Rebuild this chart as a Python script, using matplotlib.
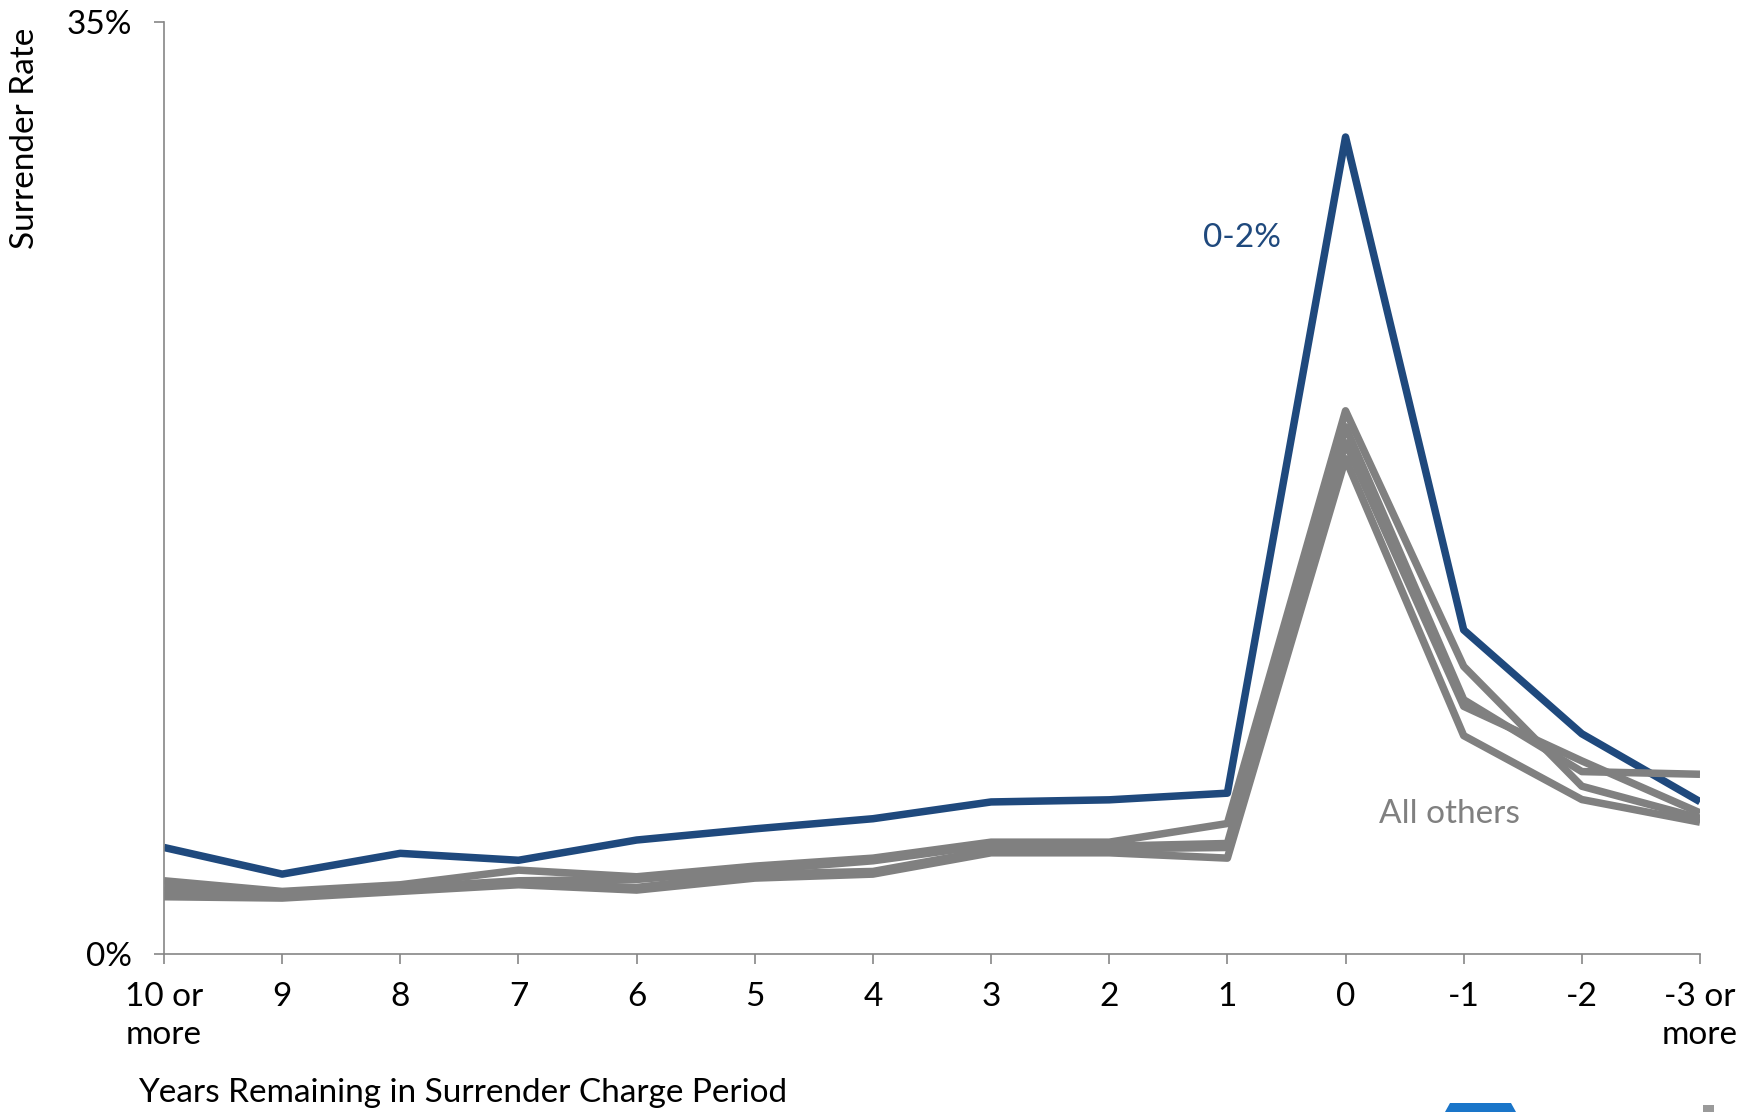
import matplotlib.pyplot as plt
import matplotlib.patches as mpatches
import numpy as np

plt.rcParams["font.family"] = ["Lato", "DejaVu Sans"]

# years remaining in the surrender charge period
categories = ["10 or\nmore", "9", "8", "7", "6", "5", "4", "3", "2", "1",
              "0", "-1", "-2", "-3 or\nmore"]

# surrender rate (%) for the 0-2% group
rate_0_2 = [4.0, 3.0, 3.78, 3.52, 4.28, 4.7, 5.08, 5.71, 5.79, 6.04,
            30.68, 12.17, 8.27, 5.72]

# surrender rate (%) for the remaining groups
others_a = [2.75, 2.35, 2.6, 3.15, 2.9, 3.3, 3.6, 4.2, 4.2, 4.9,
            20.4, 10.8, 6.3, 5.1]
others_b = [2.5, 2.25, 2.5, 2.75, 2.8, 3.15, 3.5, 4.1, 4.05, 4.15,
            19.8, 9.55, 6.85, 6.75]
others_c = [2.3, 2.15, 2.45, 2.65, 2.5, 3.0, 3.1, 3.9, 3.95, 4.0,
            19.2, 9.3, 7.25, 5.3]
others_d = [2.15, 2.1, 2.35, 2.6, 2.4, 2.85, 3.0, 3.8, 3.8, 3.6,
            18.6, 8.2, 5.8, 4.95]
others = [others_a, others_b, others_c, others_d]

BLUE = "#1F497D"
GRAY = "#808080"
AXIS = "#868686"
FS = 24

fig = plt.figure(figsize=(17.54, 11.12), dpi=100)
ax = fig.add_axes([164 / 1754, 158 / 1112, 1536 / 1754, 932 / 1112])

x = np.arange(len(categories))
ax.plot(x, rate_0_2, color=BLUE, lw=5.4,
        solid_capstyle="butt", solid_joinstyle="round")
for series in others:
    ax.plot(x, series, color=GRAY, lw=5.4,
            solid_capstyle="butt", solid_joinstyle="round")

ax.set_xlim(0, len(categories) - 1)
ax.set_ylim(0, 35)

ax.set_xticks(x)
ax.set_xticklabels(categories, fontsize=FS, linespacing=1.35)
ax.set_yticks([0, 35])
ax.set_yticklabels(["0%", "35%"], fontsize=FS)

ax.tick_params(axis="x", direction="out", length=7, width=1.2,
               color=AXIS, pad=13)
ax.tick_params(axis="y", direction="out", length=7, width=1.2,
               color=AXIS, pad=16)

for side in ("top", "right"):
    ax.spines[side].set_visible(False)
for side in ("left", "bottom"):
    ax.spines[side].set_color(AXIS)
    ax.spines[side].set_linewidth(1.2)

# series annotations
ax.text(9.12, 26.9, "0-2%", color=BLUE, fontsize=FS, ha="center", va="center")
ax.text(10.88, 5.26, "All others", color=GRAY, fontsize=FS,
        ha="center", va="center")

# axis titles
fig.text(138 / 1754, 1 - 1093 / 1112, "Years Remaining in Surrender Charge Period",
         fontsize=FS, ha="left", va="center")
fig.text(25 / 1754, 1 - 28 / 1112, "Surrender Rate", fontsize=FS,
         rotation=90, ha="center", va="top")

# corner logo fragment at the bottom edge
fig.patches.append(mpatches.Polygon(
    [(1445 / 1754, 0), (1450 / 1754, 9 / 1112), (1511 / 1754, 9 / 1112),
     (1516 / 1754, 0)], closed=True, transform=fig.transFigure,
    facecolor="#1A75C9", edgecolor="none"))
fig.patches.append(mpatches.Rectangle(
    (1703 / 1754, 0), 11 / 1754, 7 / 1112, transform=fig.transFigure,
    facecolor="#9A9A9A", edgecolor="none"))

fig.savefig("out.png", dpi=100)
